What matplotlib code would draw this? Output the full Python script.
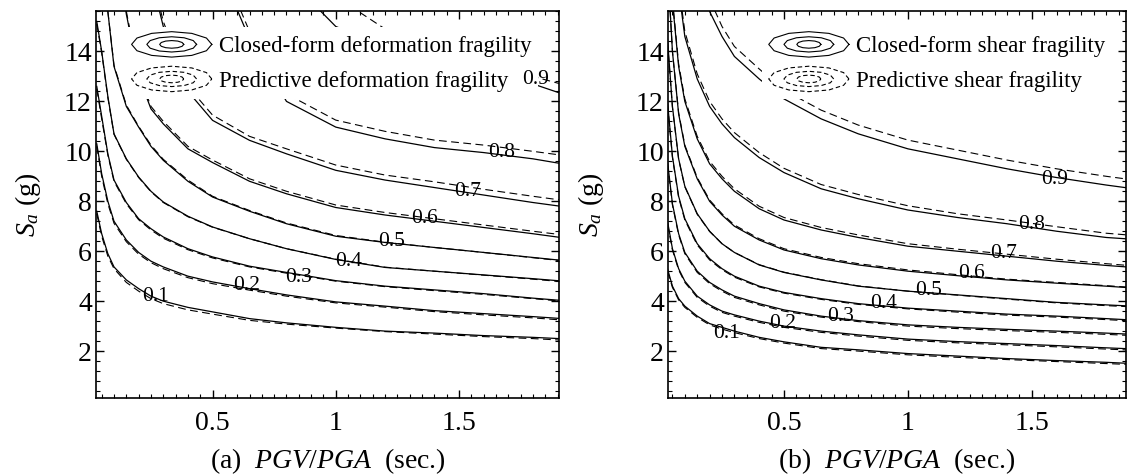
import numpy as np
import matplotlib
matplotlib.use('Agg')
import matplotlib.pyplot as plt
from matplotlib.lines import Line2D
from matplotlib.legend_handler import HandlerBase
from matplotlib.ticker import MultipleLocator

plt.rcParams['font.family'] = 'Liberation Serif'
plt.rcParams['mathtext.fontset'] = 'custom'
plt.rcParams['mathtext.rm'] = 'Liberation Serif'
plt.rcParams['mathtext.it'] = 'Liberation Serif:italic'

nan = np.nan

# contour levels (probability of exceedance)
levels = [0.1, 0.2, 0.3, 0.4, 0.5, 0.6, 0.7, 0.8, 0.9]
level_text = ['0.1', '0.2', '0.3', '0.4', '0.5', '0.6', '0.7', '0.8', '0.9']

# PGV/PGA (sec.) sample points shared by all contour lines
pgv_pga = [0.03, 0.05, 0.075, 0.1, 0.15, 0.2, 0.25, 0.3, 0.4, 0.5,
           0.65, 0.8, 1.0, 1.2, 1.4, 1.6, 1.8, 1.95]

# (a) deformation fragility, Sa (g) along each contour
a_closed = [
    [7.6, 6.7, 5.9, 5.37, 4.85, 4.5, 4.2, 4.0, 3.75, 3.57, 3.3, 3.13, 2.95, 2.8, 2.72, 2.62, 2.55, 2.48],
    [10.3, 9.1, 8.0, 7.2, 6.45, 5.95, 5.6, 5.37, 5.0, 4.77, 4.5, 4.25, 3.97, 3.8, 3.62, 3.5, 3.38, 3.28],
    [12.6, 11.4, 9.9, 8.85, 7.95, 7.3, 6.9, 6.57, 6.1, 5.77, 5.4, 5.15, 4.82, 4.6, 4.45, 4.3, 4.12, 4.0],
    [15.2, 14.0, 12.2, 10.7, 9.7, 8.97, 8.4, 7.97, 7.4, 6.97, 6.5, 6.1, 5.67, 5.35, 5.2, 5.05, 4.9, 4.78],
    [22.0, 18.0, 15.6, 13.4, 11.8, 10.97, 10.2, 9.64, 8.8, 8.17, 7.6, 7.1, 6.6, 6.35, 6.15, 5.95, 5.75, 5.6],
    [30.0, 26.0, 22.0, 19.0, 15.5, 13.0, 11.7, 11.1, 10.1, 9.55, 8.8, 8.3, 7.75, 7.45, 7.2, 6.95, 6.7, 6.5],
    [nan, nan, nan, nan, nan, 22.0, 17.0, 15.0, 12.4, 11.24, 10.44, 9.9, 9.24, 8.85, 8.55, 8.25, 7.95, 7.75],
    [nan, nan, nan, nan, nan, nan, nan, nan, 22.0, 18.0, 14.5, 12.0, 10.97, 10.5, 10.15, 9.95, 9.7, 9.45],
    [nan, nan, nan, nan, nan, nan, nan, nan, nan, nan, nan, 17.0, 15.0, 14.2, 13.6, 13.2, 12.7, 12.2],
]
a_predictive = [
    [7.5, 6.6, 5.8, 5.3, 4.75, 4.4, 4.1, 3.9, 3.65, 3.48, 3.23, 3.08, 2.92, 2.78, 2.68, 2.58, 2.5, 2.42],
    [10.2, 9.0, 7.9, 7.12, 6.38, 5.88, 5.54, 5.3, 4.94, 4.7, 4.44, 4.2, 3.93, 3.76, 3.58, 3.45, 3.33, 3.22],
    [12.5, 11.3, 9.85, 8.8, 7.9, 7.26, 6.85, 6.52, 6.06, 5.73, 5.37, 5.12, 4.8, 4.58, 4.42, 4.27, 4.1, 3.97],
    [15.1, 13.95, 12.15, 10.68, 9.68, 8.95, 8.38, 7.95, 7.38, 6.96, 6.5, 6.1, 5.68, 5.36, 5.2, 5.04, 4.88, 4.75],
    [22.0, 18.0, 15.6, 13.45, 11.85, 11.0, 10.25, 9.68, 8.85, 8.2, 7.63, 7.13, 6.63, 6.36, 6.15, 5.95, 5.74, 5.58],
    [30.0, 26.0, 22.0, 19.0, 15.6, 13.1, 11.8, 11.2, 10.2, 9.65, 8.9, 8.4, 7.85, 7.55, 7.3, 7.05, 6.8, 6.62],
    [nan, nan, nan, nan, nan, 22.0, 17.2, 15.2, 12.6, 11.45, 10.6, 10.1, 9.45, 9.05, 8.78, 8.48, 8.2, 8.0],
    [nan, nan, nan, nan, nan, nan, nan, nan, 22.0, 18.3, 14.8, 12.3, 11.25, 10.8, 10.45, 10.25, 10.0, 9.8],
    [nan, nan, nan, nan, nan, nan, nan, nan, nan, nan, nan, 19.0, 16.2, 14.9, 14.1, 13.5, 13.0, 12.6],
]

# (b) shear fragility
b_closed = [
    [5.3, 4.6, 4.1, 3.8, 3.4, 3.1, 2.95, 2.8, 2.55, 2.37, 2.15, 2.05, 1.9, 1.8, 1.7, 1.62, 1.55, 1.48],
    [7.2, 6.1, 5.3, 4.8, 4.2, 3.85, 3.6, 3.45, 3.2, 3.0, 2.8, 2.65, 2.48, 2.38, 2.3, 2.22, 2.13, 2.07],
    [9.6, 7.9, 6.7, 5.95, 5.2, 4.75, 4.45, 4.2, 3.9, 3.65, 3.4, 3.22, 3.05, 2.95, 2.87, 2.8, 2.72, 2.65],
    [12.0, 9.8, 8.2, 7.3, 6.3, 5.7, 5.3, 5.0, 4.6, 4.35, 4.1, 3.9, 3.72, 3.6, 3.48, 3.4, 3.3, 3.22],
    [14.5, 11.8, 9.7, 8.6, 7.5, 6.8, 6.3, 5.95, 5.45, 5.15, 4.85, 4.6, 4.4, 4.25, 4.1, 3.95, 3.85, 3.78],
    [17.5, 14.0, 11.5, 10.2, 8.9, 8.0, 7.45, 7.0, 6.45, 6.05, 5.7, 5.45, 5.2, 5.02, 4.85, 4.72, 4.6, 4.5],
    [21.0, 16.0, 13.4, 12.0, 10.5, 9.5, 8.9, 8.4, 7.7, 7.25, 6.85, 6.55, 6.2, 6.0, 5.8, 5.6, 5.43, 5.32],
    [26.0, 20.0, 16.5, 14.6, 12.9, 11.8, 11.1, 10.55, 9.75, 9.15, 8.5, 8.1, 7.65, 7.35, 7.1, 6.8, 6.55, 6.45],
    [nan, nan, nan, 25.0, 19.0, 15.6, 14.6, 13.8, 12.9, 12.1, 11.3, 10.7, 10.1, 9.7, 9.3, 8.95, 8.65, 8.45],
]
b_predictive = [
    [5.2, 4.55, 4.05, 3.75, 3.35, 3.05, 2.88, 2.74, 2.5, 2.32, 2.1, 2.0, 1.85, 1.75, 1.66, 1.58, 1.5, 1.44],
    [7.1, 6.05, 5.25, 4.75, 4.15, 3.8, 3.55, 3.4, 3.15, 2.95, 2.75, 2.6, 2.43, 2.33, 2.25, 2.17, 2.08, 2.02],
    [9.5, 7.85, 6.65, 5.9, 5.15, 4.7, 4.4, 4.15, 3.85, 3.6, 3.36, 3.18, 3.0, 2.9, 2.82, 2.75, 2.67, 2.6],
    [11.9, 9.75, 8.15, 7.25, 6.25, 5.65, 5.26, 4.96, 4.57, 4.32, 4.07, 3.87, 3.69, 3.56, 3.44, 3.36, 3.26, 3.18],
    [14.4, 11.75, 9.68, 8.58, 7.48, 6.79, 6.3, 5.95, 5.46, 5.16, 4.86, 4.61, 4.4, 4.24, 4.08, 3.93, 3.82, 3.75],
    [17.5, 14.0, 11.55, 10.25, 8.95, 8.05, 7.5, 7.05, 6.5, 6.1, 5.75, 5.5, 5.25, 5.06, 4.88, 4.75, 4.62, 4.52],
    [21.0, 16.1, 13.5, 12.1, 10.6, 9.6, 9.0, 8.5, 7.8, 7.35, 6.95, 6.65, 6.3, 6.08, 5.88, 5.68, 5.5, 5.38],
    [26.0, 20.0, 16.7, 14.8, 13.1, 12.0, 11.3, 10.75, 9.95, 9.32, 8.67, 8.27, 7.82, 7.5, 7.25, 6.98, 6.72, 6.6],
    [nan, nan, nan, 25.0, 19.5, 16.1, 15.0, 14.2, 13.3, 12.45, 11.65, 11.05, 10.45, 10.05, 9.65, 9.3, 9.0, 8.8],
]

# where the level numbers sit on each panel
a_lab_x = [0.27, 0.64, 0.85, 1.05, 1.225, 1.36, 1.535, 1.675, 1.81]
a_lab_y = [4.2, 4.62, 4.95, 5.6, 6.37, 7.3, 8.4, 9.97, 12.88]
b_lab_x = [0.27, 0.495, 0.73, 0.9, 1.085, 1.255, 1.385, 1.5, 1.59]
b_lab_y = [2.72, 3.12, 3.38, 3.9, 4.43, 5.1, 5.9, 7.05, 8.86]


class ContourIcon(HandlerBase):
    # three nested rings, like a tiny contour plot
    def __init__(self, ls):
        super().__init__()
        self.ls = ls

    def create_artists(self, legend, orig_handle, xdescent, ydescent,
                       width, height, fontsize, trans):
        cx = width / 2 - xdescent
        cy = height / 2 - ydescent
        t = np.linspace(0, 2 * np.pi, 13)
        arts = []
        for sx, sy in [(1.0, 1.0), (0.62, 0.6), (0.3, 0.3)]:
            xs = cx + 0.5 * width * sx * np.cos(t)
            ys = cy + 0.62 * height * sy * np.sin(t)
            arts.append(Line2D(xs, ys, color='k', lw=0.8, linestyle=self.ls,
                               transform=trans))
        return arts


fig = plt.figure(figsize=(11.27, 4.74), dpi=100)
ax_a = fig.add_axes([0.0852, 0.1603, 0.4108, 0.8165])
ax_b = fig.add_axes([0.5927, 0.1603, 0.4064, 0.8165])

dash = (0, (7, 4))

panels = [
    (ax_a, a_closed, a_predictive, a_lab_x, a_lab_y, (0.027, 1.906),
     'deformation', '(a)', (0.062, 0.958), -0.115),
    (ax_b, b_closed, b_predictive, b_lab_x, b_lab_y, (0.032, 1.88),
     'shear', '(b)', (0.205, 0.958), -0.135),
]

for ax, closed, pred, lx, ly, xlim, kind, tag, leg_at, ylab_x in panels:
    for i in range(len(levels)):
        ax.plot(pgv_pga, closed[i], color='k', lw=0.9)
        ax.plot(pgv_pga, pred[i], color='k', lw=0.8, linestyle=dash)
        ax.text(lx[i], ly[i], level_text[i], fontsize=15.5, ha='center',
                va='center', zorder=6)

    ax.set_xlim(xlim)
    ax.set_ylim(0.12, 15.62)
    ax.xaxis.set_minor_locator(MultipleLocator(0.05))
    ax.yaxis.set_major_locator(MultipleLocator(2))
    ax.yaxis.set_minor_locator(MultipleLocator(0.4))
    ax.set_xticks([0.5, 1, 1.5])
    ax.set_xticklabels(['0.5', '1', '1.5'])
    ax.tick_params(which='both', direction='in', top=True, right=True,
                   labelsize=20)
    ax.tick_params(which='major', length=6, width=1)
    ax.tick_params(which='minor', length=3, width=0.8)
    ax.tick_params(axis='x', pad=9)
    ax.tick_params(axis='y', pad=3)
    for s in ax.spines.values():
        s.set_linewidth(1.2)

    ax.set_xlabel(tag + r'  $PGV/PGA$  (sec.)', fontsize=20)
    ax.xaxis.set_label_coords(0.5, -0.125)
    ax.set_ylabel(r'$S_a$ (g)', fontsize=20)
    ax.yaxis.set_label_coords(ylab_x, 0.5)

    h1 = Line2D([], [], color='k')
    h2 = Line2D([], [], color='k', linestyle='--')
    leg = ax.legend([h1, h2],
                    ['Closed-form ' + kind + ' fragility',
                     'Predictive ' + kind + ' fragility'],
                    handler_map={h1: ContourIcon('-'), h2: ContourIcon((0, (4, 2.5)))},
                    loc='upper left', bbox_to_anchor=leg_at, borderaxespad=0,
                    fontsize=16.5, handlelength=3.5, handleheight=1.0,
                    handletextpad=0.3, labelspacing=0.5, borderpad=0.3,
                    frameon=True, fancybox=False, framealpha=1,
                    facecolor='white', edgecolor='none')
    leg.set_zorder(5)

fig.savefig('out.png', dpi=100)
